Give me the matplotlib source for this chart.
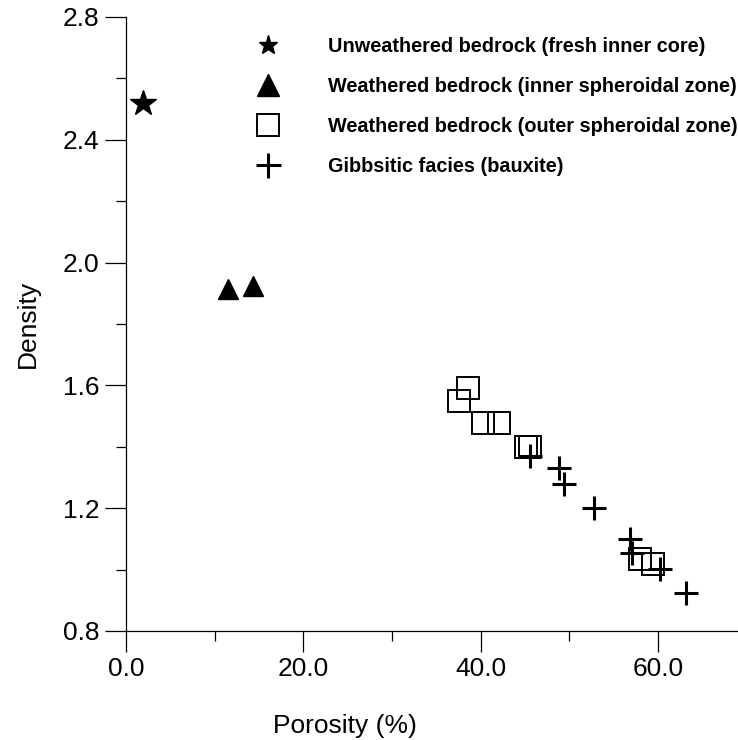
import matplotlib
matplotlib.use("Agg")
import matplotlib.pyplot as plt
from matplotlib.ticker import MultipleLocator, FormatStrFormatter

plt.rcParams["font.family"] = ["Liberation Sans", "DejaVu Sans"]

# Valores
poros_fresh = [1.9]
dens_fresh = [2.52]

poros_inner = [11.5, 14.3]
dens_inner = [1.915, 1.925]

poros_outer = [37.6, 38.6, 40.3, 42.1, 45.1, 45.6, 57.9, 59.4]
dens_outer = [1.55, 1.59, 1.479, 1.479, 1.40, 1.40, 1.035, 1.018]

poros_gibb = [45.5, 48.8, 49.4, 52.8, 56.8, 57.0, 60.2, 63.1]
dens_gibb = [1.37, 1.33, 1.28, 1.20, 1.10, 1.053, 1.002, 0.923]

labels = [
    "Unweathered bedrock (fresh inner core)",
    "Weathered bedrock (inner spheroidal zone)",
    "Weathered bedrock (outer spheroidal zone)",
    "Gibbsitic facies (bauxite)",
]

fig = plt.figure(figsize=(7.38, 7.40), dpi=100)
ax = fig.add_axes([126 / 738, 109 / 740, 1 - 126 / 738, (631 - 17) / 740])

h1, = ax.plot(poros_fresh, dens_fresh, ls="none", marker="*", ms=19, color="black")
h2, = ax.plot(poros_inner, dens_inner, ls="none", marker="^", ms=15, color="black")
h3, = ax.plot(poros_outer, dens_outer, ls="none", marker="s", ms=15.5, mfc="none",
              mec="black", mew=1.4)
h4, = ax.plot(poros_gibb, dens_gibb, ls="none", marker="+", ms=17, mec="black", mew=2.2)

ax.set_xlim(0, 69.0)
ax.set_ylim(0.8, 2.8)
ax.xaxis.set_major_locator(MultipleLocator(20))
ax.xaxis.set_minor_locator(MultipleLocator(10))
ax.yaxis.set_major_locator(MultipleLocator(0.4))
ax.yaxis.set_minor_locator(MultipleLocator(0.2))
ax.xaxis.set_major_formatter(FormatStrFormatter("%.1f"))
ax.yaxis.set_major_formatter(FormatStrFormatter("%.1f"))

for s in ["top", "right"]:
    ax.spines[s].set_visible(False)
for s in ["left", "bottom"]:
    ax.spines[s].set_linewidth(0.9)

ax.tick_params(which="major", direction="out", length=15, width=0.9, labelsize=19, pad=4)
ax.tick_params(which="minor", direction="out", length=7, width=0.9)

ax.set_xlabel("Porosity (%)", fontsize=19)
ax.set_ylabel("Density", fontsize=19)
ax.xaxis.set_label_coords((345 - 126) / 612, -0.135)
ax.yaxis.set_label_coords(-0.14, 0.5)

leg = ax.legend([h1, h2, h3, h4], labels, loc="upper left",
                bbox_to_anchor=(248 / 738, 1 - 37 / 740), bbox_transform=fig.transFigure,
                frameon=False, borderpad=0, borderaxespad=0, handlelength=2.0,
                handletextpad=2.02, labelspacing=1.05,
                prop={"weight": "bold", "size": 14.3})
sizes = [14, 16, 16, 18]
for lh, sz in zip(leg.legend_handles, sizes):
    lh.set_markersize(sz)

fig.savefig("out.png", dpi=100)
